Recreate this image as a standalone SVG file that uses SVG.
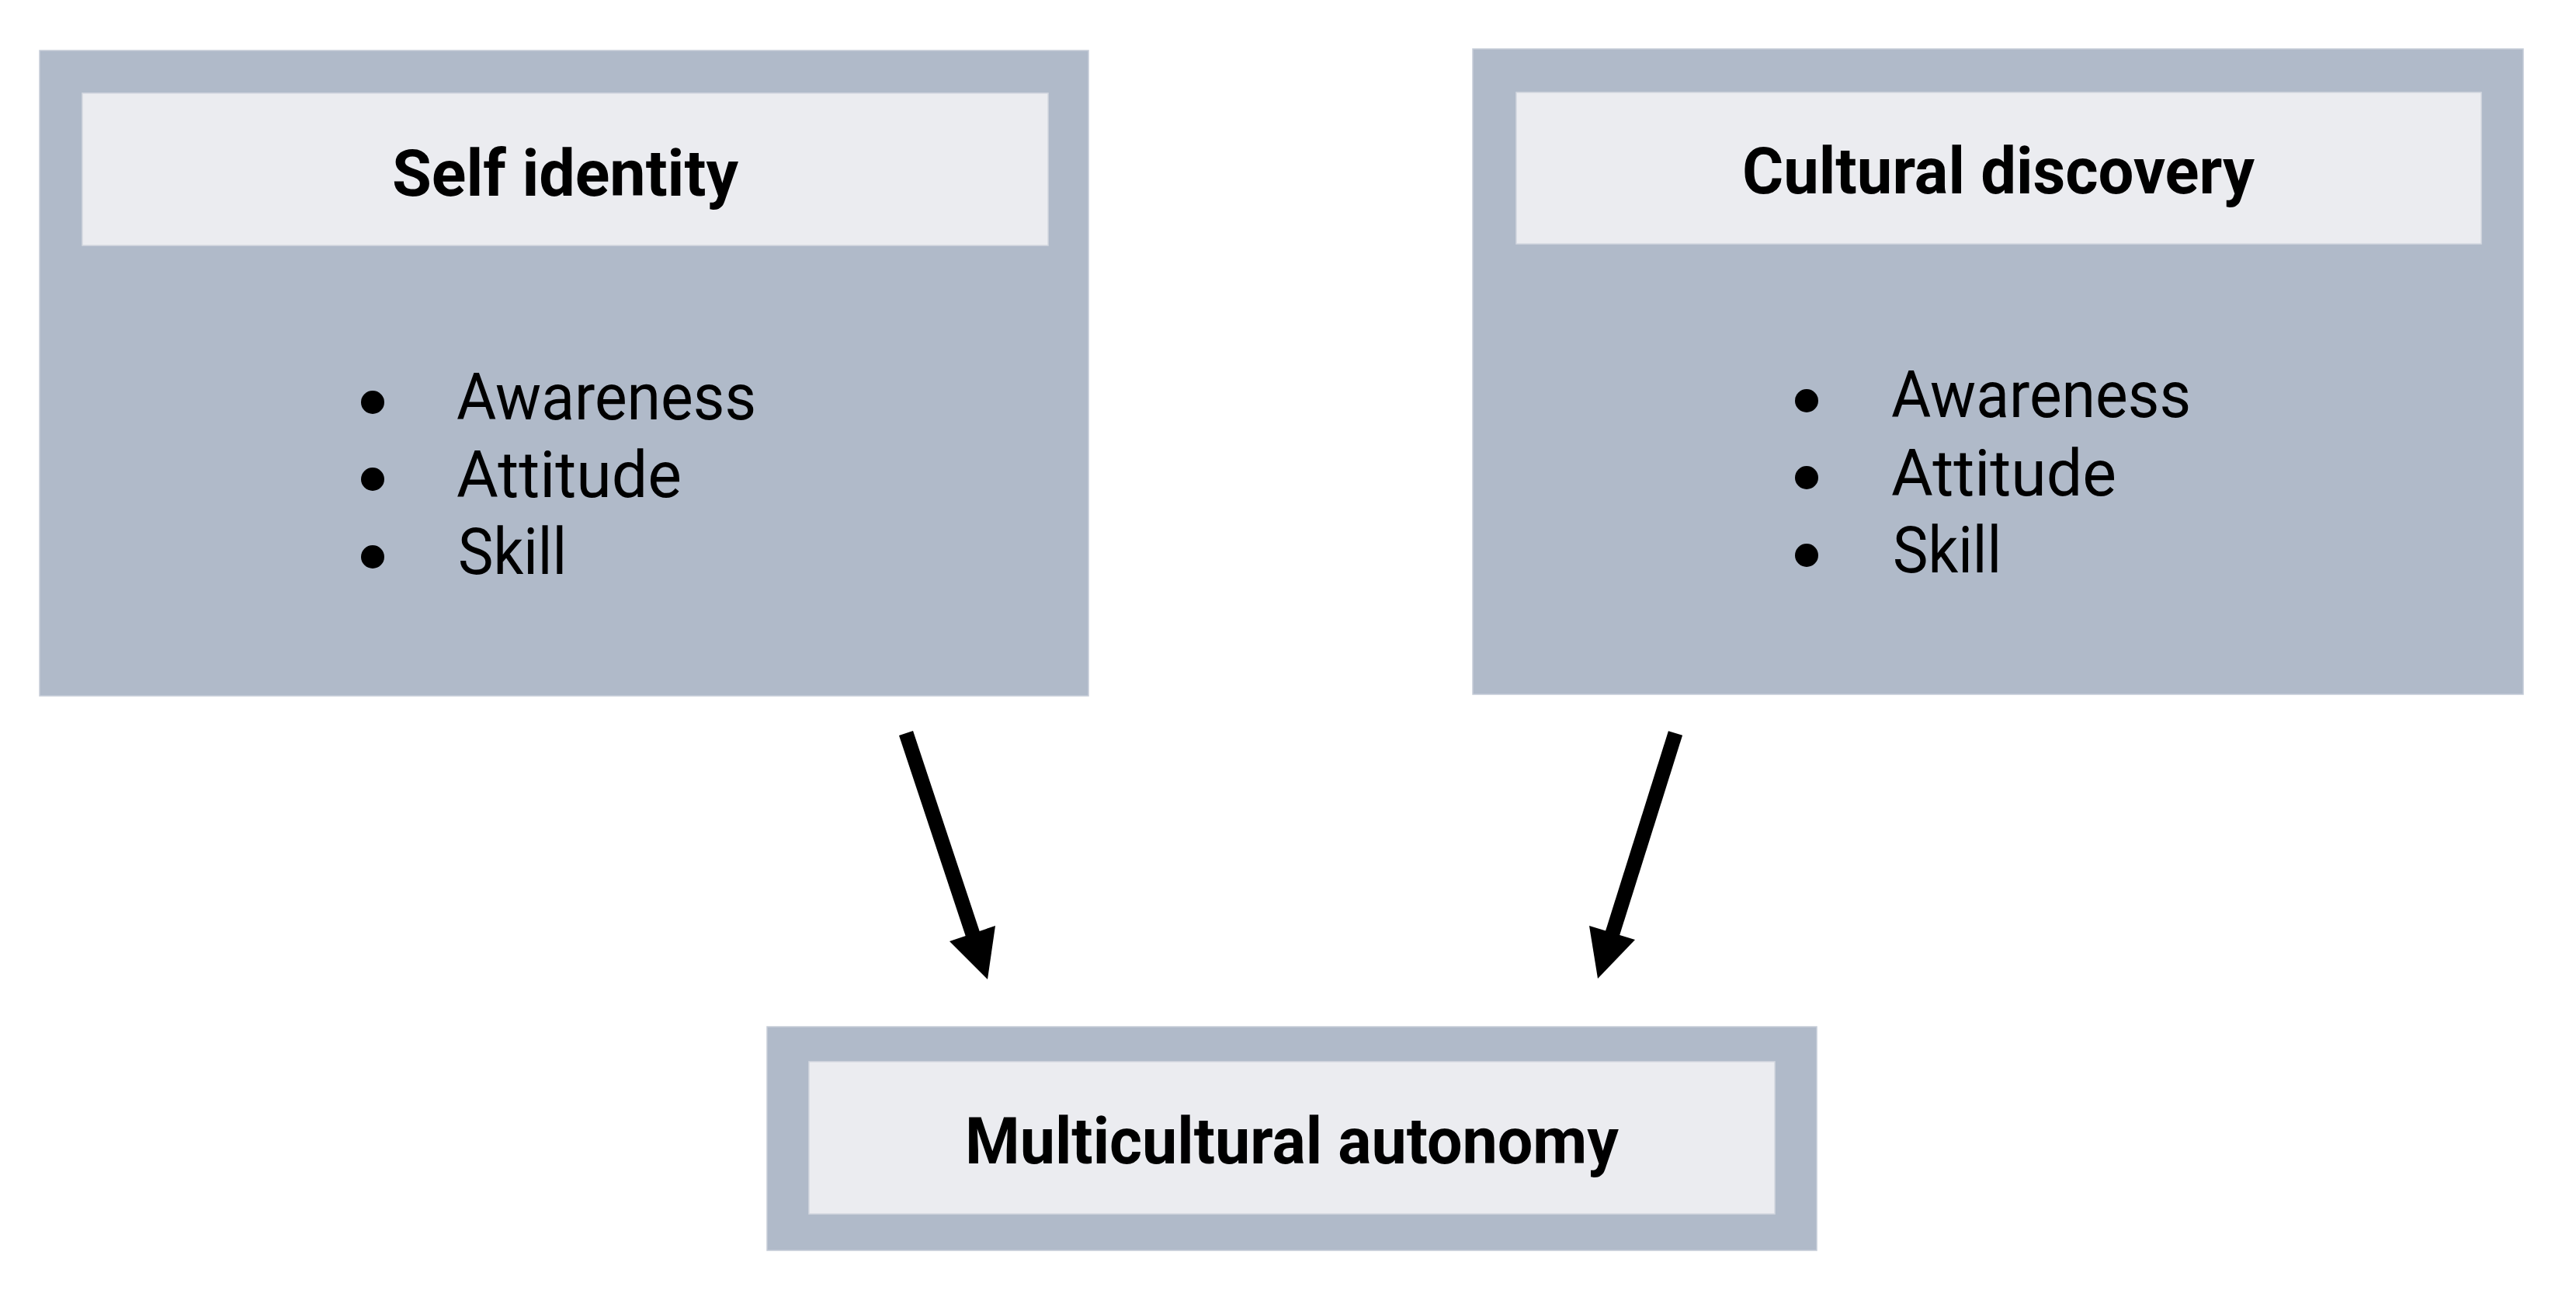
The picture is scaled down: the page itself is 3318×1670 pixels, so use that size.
<svg xmlns="http://www.w3.org/2000/svg" width="3318" height="1670" viewBox="0 0 3318 1670">
<style>
.outer{fill:#B0BAC9;stroke:#C6CDD8;stroke-width:1.5}
.inner{fill:#EBECF0;stroke:#D3D8E0;stroke-width:1.5}
.title{font-family:Roboto,"Liberation Sans",sans-serif;font-weight:bold;font-size:84px;fill:#000;text-anchor:middle}
.item{font-family:Roboto,"Liberation Sans",sans-serif;font-size:83px;fill:#000}
.shaft{stroke:#000;stroke-width:19;fill:none}
</style>
<rect width="3318" height="1670" fill="#FFFFFF"/>
<g id="connectors">
<line class="shaft" x1="1167" y1="944" x2="1255" y2="1209"/>
<polygon points="1223,1212 1282,1192 1272,1261" fill="#000"/>
<line class="shaft" x1="2158" y1="944" x2="2075" y2="1208"/>
<polygon points="2106,1210 2047,1192 2058,1260" fill="#000"/>
</g>
<g id="self-identity">
<rect class="outer" x="51" y="65" width="1351" height="831"/>
<rect class="inner" x="106" y="120" width="1244" height="196"/>
<text class="title" x="728" y="252" textLength="446" lengthAdjust="spacingAndGlyphs">Self identity</text>
<circle cx="480" cy="518" r="15"/>
<circle cx="480" cy="617" r="15"/>
<circle cx="480" cy="717" r="15"/>
<text class="item" x="588" y="540" textLength="386" lengthAdjust="spacingAndGlyphs">Awareness</text>
<text class="item" x="588" y="640" textLength="290" lengthAdjust="spacingAndGlyphs">Attitude</text>
<text class="item" x="590" y="739" textLength="140" lengthAdjust="spacingAndGlyphs">Skill</text>
</g>
<g id="cultural-discovery">
<rect class="outer" x="1897" y="63" width="1353" height="831"/>
<rect class="inner" x="1953" y="119" width="1243" height="195"/>
<text class="title" x="2574" y="249" textLength="660" lengthAdjust="spacingAndGlyphs">Cultural discovery</text>
<circle cx="2327" cy="516" r="15"/>
<circle cx="2327" cy="615" r="15"/>
<circle cx="2327" cy="715" r="15"/>
<text class="item" x="2436" y="537" textLength="386" lengthAdjust="spacingAndGlyphs">Awareness</text>
<text class="item" x="2436" y="638" textLength="290" lengthAdjust="spacingAndGlyphs">Attitude</text>
<text class="item" x="2438" y="737" textLength="140" lengthAdjust="spacingAndGlyphs">Skill</text>
</g>
<g id="multicultural-autonomy">
<rect class="outer" x="988" y="1322" width="1352" height="288"/>
<rect class="inner" x="1042" y="1367" width="1244" height="196"/>
<text class="title" x="1664" y="1498" textLength="842" lengthAdjust="spacingAndGlyphs">Multicultural autonomy</text>
</g>
</svg>
